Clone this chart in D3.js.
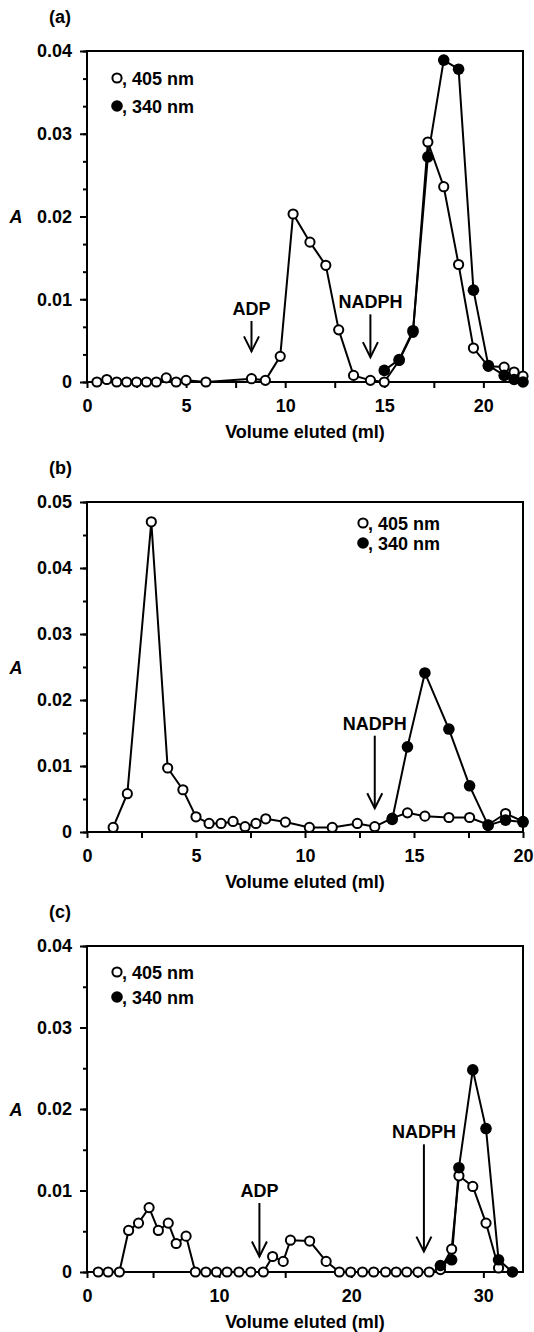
<!DOCTYPE html>
<html>
<head>
<meta charset="utf-8">
<script src="https://cdn.jsdelivr.net/npm/d3@7"></script>
<style>
  body { margin: 0; background: #fff; }
  svg text { font-family: "Liberation Sans", Arial, sans-serif; font-weight: bold; font-size: 18px; fill: #000; }
</style>
</head>
<body>
<svg width="534" height="1332"></svg>
<script>
// (volume ml, absorbance)
const a405 = [[0.5,0],[1,0.0003],[1.5,0],[2,0],[2.5,0],[3,0],[3.5,0],[4,0.0005],[4.5,0],[5,0.0002],[6,0],
  [8.3,0.0004],[9,0.0002],[9.75,0.0031],[10.4,0.0203],[11.25,0.0169],[12.05,0.0141],[12.7,0.0063],[13.45,0.0008],
  [14.3,0.0002],[15,0],[15.75,0.0026],[16.45,0.006],[17.2,0.029],[18,0.0236],[18.75,0.0142],[19.5,0.0041],
  [20.25,0.0019],[21.05,0.0018],[21.55,0.0012],[22,0.0007]];
const a340 = [[15,0.0014],[15.75,0.0027],[16.45,0.0062],[17.2,0.0272],[18,0.0389],[18.75,0.0378],[19.5,0.0111],
  [20.25,0.002],[21.05,0.0008],[21.55,0.0003],[22,0]];

const b405 = [[1.2,0.0007],[1.85,0.0058],[2.95,0.047],[3.7,0.0097],[4.4,0.0064],[5,0.0023],[5.6,0.0013],[6.15,0.0013],
  [6.7,0.0016],[7.25,0.0008],[7.75,0.0013],[8.2,0.002],[9.1,0.0015],[10.2,0.0007],[11.25,0.0007],[12.4,0.0013],
  [13.2,0.0008],[14,0.0021],[14.7,0.0029],[15.5,0.0024],[16.6,0.0022],[17.55,0.0022],[18.4,0.0011],[19.2,0.0028],[20,0.0016]];
const b340 = [[14,0.0019],[14.7,0.0129],[15.5,0.0241],[16.6,0.0156],[17.55,0.007],[18.4,0.001],[19.2,0.0018],[20,0.0015]];

const c405 = [[0.85,0],[1.6,0],[2.45,0],[3.15,0.0051],[3.9,0.006],[4.7,0.0079],[5.4,0.0051],[6.15,0.006],[6.75,0.0035],
  [7.5,0.0044],[8.2,0],[9,0],[9.8,0],[10.6,0],[11.5,0],[12.4,0],[13.35,0],[14.05,0.0019],[14.85,0.0013],[15.4,0.0039],
  [16.85,0.0038],[18.1,0.0013],[19.1,0],[19.95,0],[20.85,0],[21.7,0],[22.6,0],[23.4,0],[24.2,0],[25.05,0],[25.9,0],
  [26.75,0.0003],[27.6,0.0028],[28.15,0.0118],[29.2,0.0105],[30.2,0.006],[31.15,0.0005]];
const c340 = [[26.75,0.0008],[27.6,0.0015],[28.15,0.0128],[29.2,0.0248],[30.2,0.0176],[31.15,0.0015],[32.2,0]];

// tick labels
const aXTicks = [0, 5, 10, 15, 20];
const bXTicks = [0, 5, 10, 15, 20];
const cXTicks = [0, 10, 20, 30];
const aYTicks = [0, 0.01, 0.02, 0.03, 0.04];
const bYTicks = [0, 0.01, 0.02, 0.03, 0.04, 0.05];
const cYTicks = [0, 0.01, 0.02, 0.03, 0.04];

// arrows: where the label sits and where the tip points (data units)
const aNotes = [{ label: 'ADP', x: 8.3, text: 0.0081, tip: 0.0037 }, { label: 'NADPH', x: 14.3, text: 0.0089, tip: 0.003 }];
const bNotes = [{ label: 'NADPH', x: 13.2, text: 0.0155, tip: 0.0036 }];
const cNotes = [{ label: 'ADP', x: 13.05, text: 0.0092, tip: 0.0019 }, { label: 'NADPH', x: 25.5, text: 0.0164, tip: 0.0025 }];

const legendLabels = [', 405 nm', ', 340 nm'];

const svg = d3.select('svg');
const left = 87, right = 523;
const rOpen = 4.6, rFilled = 5.8;

const drawPanel = p => {
  const g = svg.append('g');
  const x = d3.scaleLinear().domain([0, p.xMax]).range([left, right]);
  const y = d3.scaleLinear().domain([0, p.yMax]).range([p.bottom, p.top]);

  // x axis, minor ticks unlabelled
  g.append('g')
    .attr('transform', `translate(0,${p.bottom})`)
    .call(d3.axisBottom(x)
      .tickValues(d3.range(0, p.xMax + 1e-9, p.xStep))
      .tickSize(6).tickPadding(11)
      .tickFormat(d => p.xTicks.includes(d) ? d : ''))
    .call(s => s.select('.domain').remove());

  // y axis minor + major
  g.append('g')
    .attr('transform', `translate(${left},0)`)
    .call(d3.axisLeft(y).tickValues(d3.range(0, p.yMax + 1e-9, p.yMinor)).tickSize(4).tickFormat(''))
    .call(s => s.select('.domain').remove());
  g.append('g')
    .attr('transform', `translate(${left},0)`)
    .call(d3.axisLeft(y).tickValues(p.yTicks).tickSize(7).tickPadding(8)
      .tickFormat(d => d === 0 ? '0' : d3.format('.2f')(d)))
    .call(s => s.select('.domain').remove());

  g.selectAll('.tick line').attr('stroke-width', 2);

  g.append('rect')
    .attr('x', left).attr('y', p.top)
    .attr('width', right - left).attr('height', p.bottom - p.top)
    .attr('fill', 'none').attr('stroke', '#000').attr('stroke-width', 2);

  const line = d3.line().x(d => x(d[0])).y(d => y(d[1]));
  [p.open, p.filled].forEach(s => {
    g.append('path').attr('d', line(s))
      .attr('fill', 'none').attr('stroke', '#000').attr('stroke-width', 2);
  });

  g.selectAll('.open').data(p.open).join('circle')
    .attr('cx', d => x(d[0])).attr('cy', d => y(d[1])).attr('r', rOpen)
    .attr('fill', '#fff').attr('stroke', '#000').attr('stroke-width', 2);
  g.selectAll('.filled').data(p.filled).join('circle')
    .attr('cx', d => x(d[0])).attr('cy', d => y(d[1])).attr('r', rFilled)
    .attr('fill', '#000');

  // arrows
  p.notes.forEach(n => {
    const cx = x(n.x), ty = y(n.text), tip = y(n.tip);
    g.append('text').attr('x', cx).attr('y', ty).attr('text-anchor', 'middle').text(n.label);
    g.append('line').attr('x1', cx).attr('x2', cx).attr('y1', ty + 6).attr('y2', tip)
      .attr('stroke', '#000').attr('stroke-width', 2);
    g.append('path').attr('d', `M${cx - 7.5},${tip - 15}L${cx},${tip}L${cx + 7.5},${tip - 15}`)
      .attr('fill', 'none').attr('stroke', '#000').attr('stroke-width', 2);
  });

  // legend
  p.legend.forEach((pos, i) => {
    g.append('circle').attr('cx', pos[0]).attr('cy', pos[1])
      .attr('r', i === 0 ? rOpen : rFilled)
      .attr('fill', i === 0 ? '#fff' : '#000')
      .attr('stroke', i === 0 ? '#000' : 'none').attr('stroke-width', 2);
    g.append('text').attr('x', pos[0] + 5).attr('y', pos[1] + 6.5).text(legendLabels[i]);
  });

  g.append('text').attr('x', 49).attr('y', p.top - 28).text(p.name);
  g.append('text').attr('x', 16).attr('y', (p.top + p.bottom) / 2 + 6.5)
    .attr('text-anchor', 'middle').style('font-style', 'italic').text('A');
  g.append('text').attr('x', (left + right) / 2).attr('y', p.bottom + 56)
    .attr('text-anchor', 'middle').text('Volume eluted (ml)');
};

drawPanel({ name: '(a)', top: 51, bottom: 382, xMax: 22, xStep: 2.5, xTicks: aXTicks,
  yMax: 0.04, yMinor: 0.01 / 3, yTicks: aYTicks, open: a405, filled: a340, notes: aNotes,
  legend: [[117, 78], [117, 106]] });
drawPanel({ name: '(b)', top: 502, bottom: 832, xMax: 20, xStep: 2.5, xTicks: bXTicks,
  yMax: 0.05, yMinor: 0.005, yTicks: bYTicks, open: b405, filled: b340, notes: bNotes,
  legend: [[363, 523], [363, 543]] });
drawPanel({ name: '(c)', top: 946, bottom: 1272, xMax: 33, xStep: 5, xTicks: cXTicks,
  yMax: 0.04, yMinor: 0.005, yTicks: cYTicks, open: c405, filled: c340, notes: cNotes,
  legend: [[117, 972], [117, 997]] });
</script>
</body>
</html>
